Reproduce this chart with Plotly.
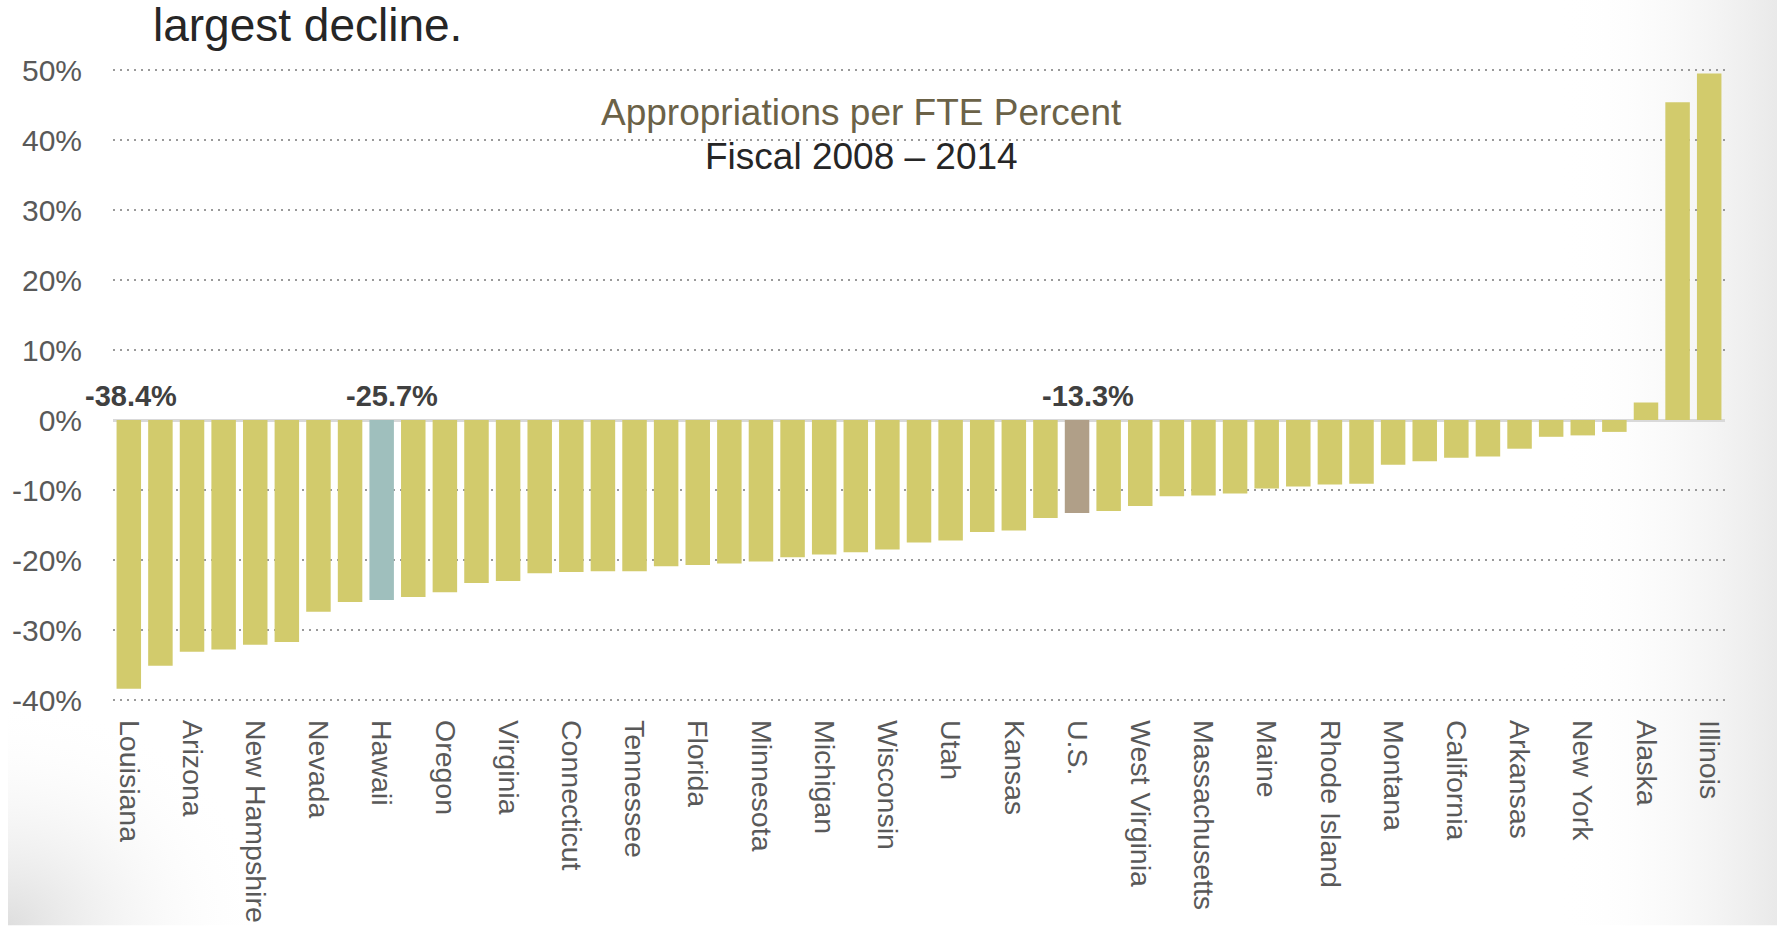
import base64
import plotly.graph_objects as go

states = [
    "Louisiana", "Pennsylvania", "Arizona", "South Carolina", "New Hampshire", "Alabama",
    "Nevada", "Georgia", "Hawaii", "Idaho", "Oregon", "New Mexico", "Virginia",
    "Mississippi", "Connecticut", "Delaware", "Tennessee", "Washington", "Florida",
    "Missouri", "Minnesota", "Iowa", "Michigan", "Ohio", "Wisconsin", "Colorado",
    "Utah", "Kentucky", "Kansas", "New Jersey", "U.S.", "North Carolina",
    "West Virginia", "Texas", "Massachusetts", "Oklahoma", "Maine", "Maryland",
    "Rhode Island", "Indiana", "Montana", "Nebraska", "California", "Vermont",
    "Arkansas", "South Dakota", "New York", "Wyoming", "Alaska", "North Dakota",
    "Illinois",
]
pct_change = [
    -38.4, -35.1, -33.1, -32.8, -32.1, -31.7,
    -27.4, -26.0, -25.7, -25.3, -24.6, -23.3, -23.0,
    -21.9, -21.7, -21.6, -21.6, -20.9, -20.7,
    -20.5, -20.2, -19.6, -19.2, -18.9, -18.5, -17.5,
    -17.2, -16.0, -15.8, -14.0, -13.3, -13.0,
    -12.3, -10.9, -10.8, -10.5, -9.8, -9.5,
    -9.2, -9.1, -6.4, -5.9, -5.4, -5.2,
    -4.1, -2.4, -2.2, -1.7, 2.5, 45.4,
    49.5,
]
labeled_states = ["Louisiana", "Hawaii", "U.S.", "Illinois"]
y_ticks = [-40, -30, -20, -10, 0, 10, 20, 30, 40, 50]
y_tick_text = [f"{v}%" for v in y_ticks]

BASE = "#D2CB6C"
HAWAII = "#9FBFBD"
US = "#B09F88"
colors = [HAWAII if s == "Hawaii" else US if s == "U.S." else BASE for s in states]

fig = go.Figure(go.Bar(
    x=states, y=pct_change, marker_color=colors, marker_line_width=0,
    hovertemplate="%{x}: %{y:.1f}%<extra></extra>",
))

FONT = "Liberation Sans, Arial, sans-serif"

# figure fills the whole 1777x926 page (body margin removed below)
W, H = 1777, 926
L, T, PW, PH = 113, 63.2, 1612, 644.2
def px_x(X):
    return (X - L) / PW
def px_y(Y):
    return 1 - (Y - T) / PH

label_shift = {"Louisiana": 2, "Hawaii": 10, "U.S.": 11, "Illinois": 14}
annotations = []
for s in labeled_states:
    v = pct_change[states.index(s)]
    ypos = 3.4 if v < 0 else 56.6
    annotations.append(dict(
        x=s, y=ypos, xref="x", yref="y", text=f"{v:.1f}%", showarrow=False,
        xshift=label_shift[s], yanchor="middle",
        font=dict(family=FONT, size=29, color="#404040", weight="bold"),
    ))

annotations.append(dict(
    x=px_x(861), y=px_y(113), xref="paper", yref="paper",
    xanchor="center", yanchor="middle",
    text="Appropriations per FTE Percent", showarrow=False,
    font=dict(family=FONT, size=37, color="#6B6248"),
))
annotations.append(dict(
    x=px_x(861), y=px_y(157), xref="paper", yref="paper",
    xanchor="center", yanchor="middle",
    text="Fiscal 2008 \u2013 2014", showarrow=False,
    font=dict(family=FONT, size=37, color="#262626"),
))
annotations.append(dict(
    x=px_x(151), y=px_y(25), xref="paper", yref="paper",
    xanchor="left", yanchor="middle",
    text="largest decline.", showarrow=False,
    font=dict(family=FONT, size=46, color="#262626"),
))

# subtle slide shading (page-curl look) at the right edge and bottom-left corner
svg = (
    "<svg xmlns='http://www.w3.org/2000/svg' width='1777' height='926' "
    "viewBox='0 0 1777 926' preserveAspectRatio='none'>"
    "<defs>"
    "<linearGradient id='r' x1='0' x2='1' y1='0' y2='0'>"
    "<stop offset='0' stop-color='#ffffff' stop-opacity='0'/>"
    "<stop offset='1' stop-color='#e9e9e9' stop-opacity='1'/></linearGradient>"
    "<radialGradient id='b' cx='0' cy='1' r='1'>"
    "<stop offset='0' stop-color='#dedede' stop-opacity='1'/>"
    "<stop offset='1' stop-color='#ffffff' stop-opacity='0'/></radialGradient>"
    "</defs>"
    "<rect x='1560' y='0' width='217' height='926' fill='url(#r)'/>"
    "<rect x='8' y='700' width='260' height='226' fill='url(#b)'/>"
    "</svg>"
)
bg_src = "data:image/svg+xml;base64," + base64.b64encode(svg.encode()).decode()

fig.update_layout(
    width=W, height=H,
    margin=dict(l=L, r=W - L - PW, t=T, b=H - T - PH, autoexpand=False),
    paper_bgcolor="white", plot_bgcolor="rgba(0,0,0,0)",
    bargap=0.225, showlegend=False,
    annotations=annotations,
    font=dict(family=FONT),
    images=[dict(
        source=bg_src, xref="paper", yref="paper",
        x=px_x(0), y=px_y(0), sizex=W / PW, sizey=H / PH,
        xanchor="left", yanchor="top", sizing="stretch", layer="below",
    )],
)
fig.update_xaxes(
    type="category", range=[-0.5, len(states) - 0.5], automargin=False,
    tickvals=states[::2], ticktext=states[::2],
    tickangle=90, tickfont=dict(family=FONT, size=28.5, color="#595959"),
    showgrid=False, showline=False, ticks="", ticklabelstandoff=12,
)
fig.update_yaxes(
    range=[-41, 51], tickvals=y_ticks, ticktext=y_tick_text, automargin=False,
    tickfont=dict(family=FONT, size=30, color="#595959"),
    showgrid=True, gridcolor="#9A9A9A", gridwidth=2, griddash="2px,5px",
    zeroline=True, zerolinecolor="#D9D9D9", zerolinewidth=3,
    showline=False, ticks="", ticklabelstandoff=30,
)

fig.write_html(
    "out.html",
    config={"displayModeBar": False},
    post_script="document.body.style.margin='0';document.body.style.overflow='hidden';",
)
